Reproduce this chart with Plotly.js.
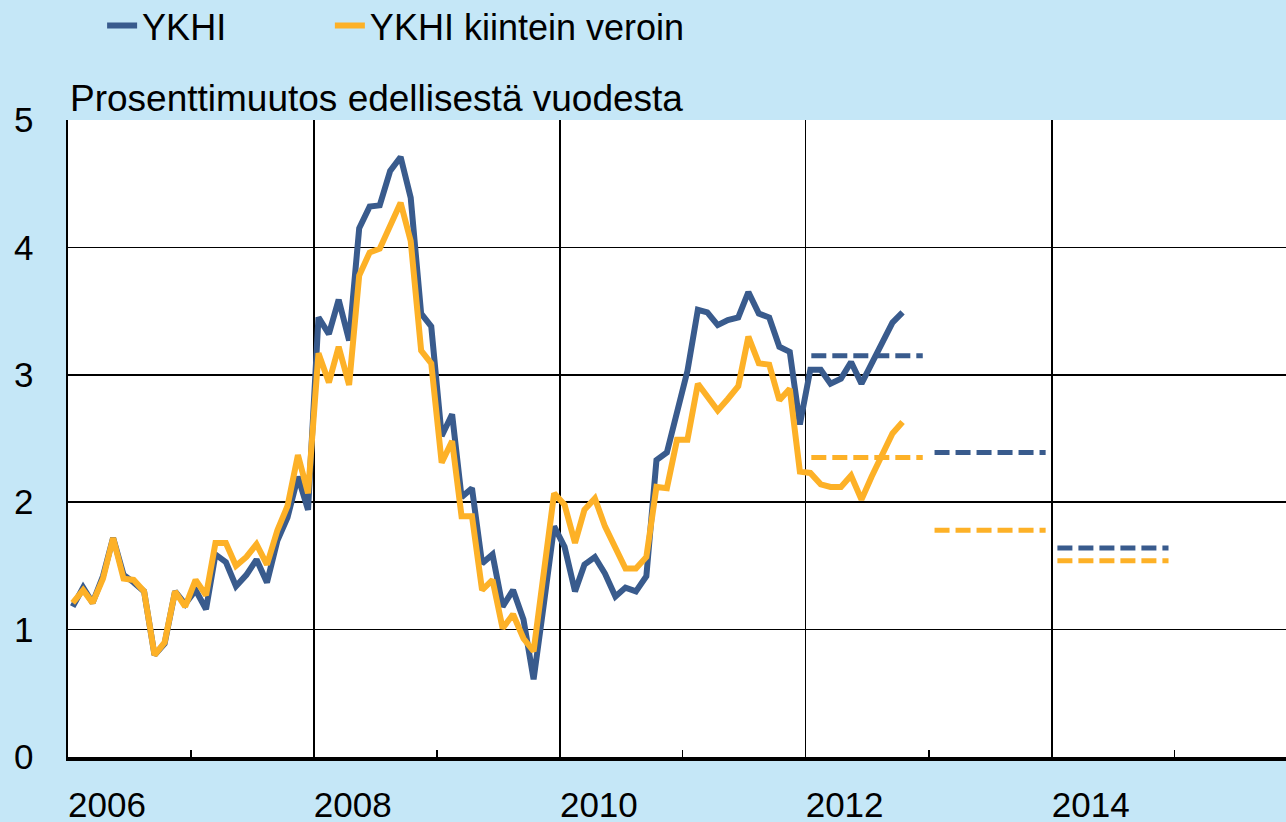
<!DOCTYPE html>
<html>
<head>
<meta charset="utf-8">
<script src="https://cdn.plot.ly/plotly-3.0.1.min.js"></script>
<style>
  html, body { margin: 0; padding: 0; overflow: hidden; background: #c5e7f7; }
  #chart { width: 1286px; height: 822px; }
</style>
</head>
<body>
<div id="chart"></div>
<script>
// Months of the observed series (year-month)
const months = [
  '2006-01','2006-02','2006-03','2006-04','2006-05','2006-06','2006-07','2006-08','2006-09','2006-10','2006-11','2006-12',
  '2007-01','2007-02','2007-03','2007-04','2007-05','2007-06','2007-07','2007-08','2007-09','2007-10','2007-11','2007-12',
  '2008-01','2008-02','2008-03','2008-04','2008-05','2008-06','2008-07','2008-08','2008-09','2008-10','2008-11','2008-12',
  '2009-01','2009-02','2009-03','2009-04','2009-05','2009-06','2009-07','2009-08','2009-09','2009-10','2009-11','2009-12',
  '2010-01','2010-02','2010-03','2010-04','2010-05','2010-06','2010-07','2010-08','2010-09','2010-10','2010-11','2010-12',
  '2011-01','2011-02','2011-03','2011-04','2011-05','2011-06','2011-07','2011-08','2011-09','2011-10','2011-11','2011-12',
  '2012-01','2012-02','2012-03','2012-04','2012-05','2012-06','2012-07','2012-08','2012-09','2012-10'
];

// YKHI, % change from previous year
const ykhi = [
  1.18, 1.33, 1.21, 1.42, 1.72, 1.43, 1.37, 1.30, 0.80, 0.89, 1.30, 1.20,
  1.31, 1.16, 1.59, 1.53, 1.34, 1.43, 1.55, 1.37, 1.70, 1.88, 2.20, 1.94,
  3.45, 3.32, 3.59, 3.27, 4.15, 4.32, 4.33, 4.60, 4.71, 4.39, 3.48, 3.38,
  2.52, 2.69, 2.04, 2.11, 1.52, 1.59, 1.18, 1.31, 1.08, 0.61, 1.21, 1.81,
  1.65, 1.30, 1.51, 1.57, 1.44, 1.26, 1.33, 1.30, 1.42, 2.33, 2.39, 2.70,
  3.03, 3.51, 3.49, 3.39, 3.43, 3.45, 3.65, 3.48, 3.45, 3.22, 3.18, 2.61,
  3.04, 3.04, 2.93, 2.97, 3.10, 2.93, 3.09, 3.27, 3.41, 3.49
];

// YKHI kiintein veroin (at constant taxes)
const ykhiFixed = [
  1.21, 1.31, 1.21, 1.40, 1.72, 1.40, 1.39, 1.30, 0.80, 0.90, 1.30, 1.18,
  1.39, 1.27, 1.68, 1.68, 1.50, 1.57, 1.67, 1.51, 1.78, 1.97, 2.37, 2.07,
  3.17, 2.94, 3.22, 2.92, 3.78, 3.96, 3.99, 4.17, 4.35, 4.05, 3.19, 3.09,
  2.31, 2.48, 1.89, 1.89, 1.31, 1.39, 1.01, 1.12, 0.93, 0.83, 1.47, 2.07,
  1.98, 1.68, 1.94, 2.03, 1.81, 1.63, 1.48, 1.48, 1.57, 2.12, 2.11, 2.49,
  2.49, 2.93, 2.83, 2.72, 2.81, 2.91, 3.30, 3.09, 3.08, 2.80, 2.89, 2.24,
  2.23, 2.14, 2.12, 2.12, 2.21, 2.02, 2.20, 2.38, 2.54, 2.63
];

// Annual forecasts (dashed)
const forecastYears = ['2012', '2013', '2014'];
const forecastYkhi = [3.15, 2.39, 1.64];
const forecastFixed = [2.35, 1.78, 1.54];

const seriesNames = ['YKHI', 'YKHI kiintein veroin'];
const blue = '#395b8d';
const orange = '#fdb127';

const xMonths = months.map(m => m + '-15');

function segX(years) {
  const out = [];
  years.forEach(y => { out.push(y + '-01-18', y + '-12-14', null); });
  return out;
}
function segY(vals) {
  const out = [];
  vals.forEach(v => { out.push(v, v, null); });
  return out;
}

const traces = [
  { x: xMonths, y: ykhi, name: seriesNames[0], type: 'scatter', mode: 'lines',
    legend: 'legend',
    line: { color: blue, width: 6 } },
  { x: xMonths, y: ykhiFixed, name: seriesNames[1], type: 'scatter', mode: 'lines',
    legend: 'legend2',
    line: { color: orange, width: 6 } },
  { x: segX(forecastYears), y: segY(forecastYkhi), type: 'scatter', mode: 'lines',
    showlegend: false, connectgaps: false, hoverinfo: 'skip',
    line: { color: blue, width: 5, dash: '15px,6px' } },
  { x: segX(forecastYears), y: segY(forecastFixed), type: 'scatter', mode: 'lines',
    showlegend: false, connectgaps: false, hoverinfo: 'skip',
    line: { color: orange, width: 5, dash: '15px,6px' } }
];

const font = { family: 'Liberation Sans, Arial, sans-serif', color: '#000000' };

const legendBase = {
  orientation: 'h',
  xanchor: 'left',
  y: 1.148, yanchor: 'middle',
  bgcolor: 'rgba(0,0,0,0)',
  font: Object.assign({ size: 36 }, font),
  itemwidth: 30
};

const layout = {
  width: 1286, height: 822,
  margin: { l: 68, r: 0, t: 120, b: 65, pad: 0, autoexpand: false },
  paper_bgcolor: '#c5e7f7',
  plot_bgcolor: '#ffffff',
  font: Object.assign({ size: 35 }, font),
  showlegend: true,
  legend: Object.assign({ x: 0.028 }, legendBase),
  legend2: Object.assign({ x: 0.215 }, legendBase),
  xaxis: {
    type: 'date',
    range: ['2006-01-01', '2015-11-28'],
    tick0: '2006-01-01',
    dtick: 'M24',
    tickformat: '%Y',
    ticks: '',
    showgrid: true,
    gridcolor: '#000000',
    gridwidth: 1.8,
    showline: true,
    linecolor: '#000000',
    linewidth: 3.5,
    zeroline: false,
    tickfont: Object.assign({ size: 35 }, font),
    ticklabelshift: 39,
    ticklabelstandoff: 14,
    automargin: false,
    minor: {
      dtick: 'M12',
      tick0: '2006-01-01',
      ticks: 'inside',
      ticklen: 7,
      tickwidth: 1.5,
      tickcolor: '#000000',
      showgrid: false
    },
    fixedrange: true
  },
  yaxis: {
    range: [0, 5],
    tick0: 0,
    dtick: 1,
    ticks: '',
    showgrid: true,
    gridcolor: '#000000',
    gridwidth: 1.8,
    showline: true,
    linecolor: '#000000',
    linewidth: 2.5,
    zeroline: false,
    tickfont: Object.assign({ size: 35 }, font),
    ticklabelstandoff: 25,
    automargin: false,
    fixedrange: true
  },
  annotations: [
    {
      text: 'Prosenttimuutos edellisestä vuodesta',
      xref: 'paper', yref: 'paper',
      x: 0, y: 1,
      xanchor: 'left', yanchor: 'bottom',
      xshift: 0, yshift: -1,
      showarrow: false,
      font: Object.assign({ size: 37 }, font)
    }
  ]
};

Plotly.newPlot('chart', traces, layout, { displayModeBar: false, staticPlot: true });
</script>
</body>
</html>
